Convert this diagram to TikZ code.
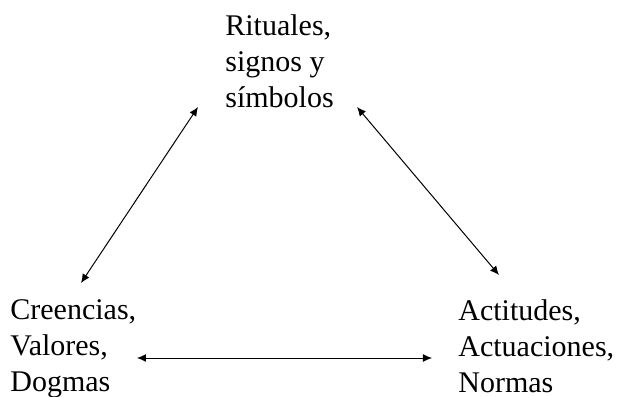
\documentclass[tikz,border=0pt]{standalone}
\usepackage{fontspec}
\setmainfont{Liberation Serif}
\usetikzlibrary{arrows.meta}
\tikzset{
  etiqueta/.style={anchor=base west, align=left, inner sep=0pt, font=\fontsize{15}{18}\selectfont},
  flecha/.style={{Latex[length=4.5pt,width=4pt]}-{Latex[length=4.5pt,width=4pt]}, line width=0.5pt}
}
\begin{document}
\begin{tikzpicture}[x=0.5pt,y=-0.5pt]
            \useasboundingbox (0,0) rectangle (618,397);
            \node[etiqueta] (rit) at (225,107) {Rituales,\\signos y\\símbolos};
            \node[etiqueta] (cre) at (10,391) {Creencias,\\Valores,\\Dogmas};
            \node[etiqueta] (act) at (458,392) {Actitudes,\\Actuaciones,\\Normas};
            \coordinate (rit-i) at (198,107);
            \coordinate (rit-d) at (357,107);
            \coordinate (cre-s) at (81,283);
            \coordinate (cre-d) at (137,358);
            \coordinate (act-s) at (499,275);
            \coordinate (act-i) at (432,358);
            \foreach \a/\b in {cre-s/rit-i, rit-d/act-s, cre-d/act-i} {
                \draw[flecha] (\a) -- (\b);
            }
        \end{tikzpicture}
\end{document}
